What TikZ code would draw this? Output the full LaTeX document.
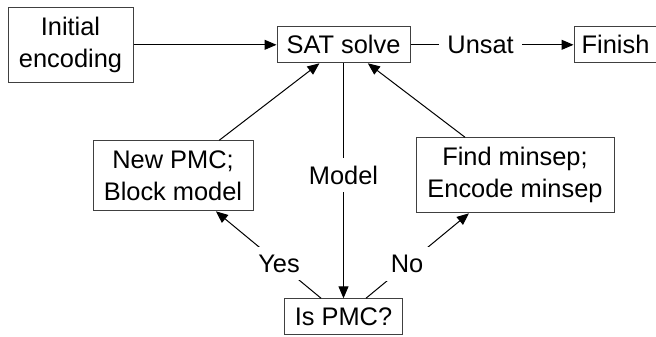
\documentclass[tikz,border=0pt]{standalone}
\usepackage{fontspec}
\setmainfont{Liberation Sans}
\usetikzlibrary{positioning, arrows.meta}

\begin{document}
\begin{tikzpicture}[
      box/.style={draw=black!75, line width=0.5pt, inner sep=0pt,
                  font=\fontsize{12.7}{16}\selectfont, align=center},
      lbl/.style={fill=white, inner sep=4pt, font=\fontsize{12.7}{16}\selectfont},
      arr/.style={-{Triangle[length=6pt, width=5pt]}, line width=0.5pt, black}]
    \useasboundingbox (0,0) rectangle (328pt,-168pt);
    \node[box, minimum width=62.5pt, minimum height=37.5pt] (init) at (35.25pt,-22.4pt) {Initial\\ encoding};
    \node[box, minimum width=66.5pt, minimum height=18pt, right=71.5pt of init] (sat) {SAT solve};
    \node[box, minimum width=41.5pt, minimum height=18pt, right=81.5pt of sat] (finish) {Finish};
    \node[box, minimum width=80pt, minimum height=35pt, below left=38.5pt and 11.5pt of sat] (newpmc) {New PMC;\\ Block model};
    \node[box, minimum width=99pt, minimum height=37.5pt, below right=37pt and 2.5pt of sat] (findms) {Find minsep;\\ Encode minsep};
    \node[box, minimum width=59pt, minimum height=18pt, below=117.5pt of sat] (ispmc) {Is PMC?};
    \draw[arr] (init) -- (sat);
    \draw[arr] (sat) -- node[lbl, pos=0.43] {Unsat} (finish);
    \draw[arr] (sat) -- node[lbl, pos=0.475] {Model} (ispmc);
    \draw[arr] (ispmc) -- node[lbl, pos=0.4] {Yes} (newpmc);
    \draw[arr] (ispmc) -- node[lbl, pos=0.4] {No} (findms);
    \draw[arr] (newpmc) -- (sat);
    \draw[arr] (findms) -- (sat);
  \end{tikzpicture}
\end{document}
